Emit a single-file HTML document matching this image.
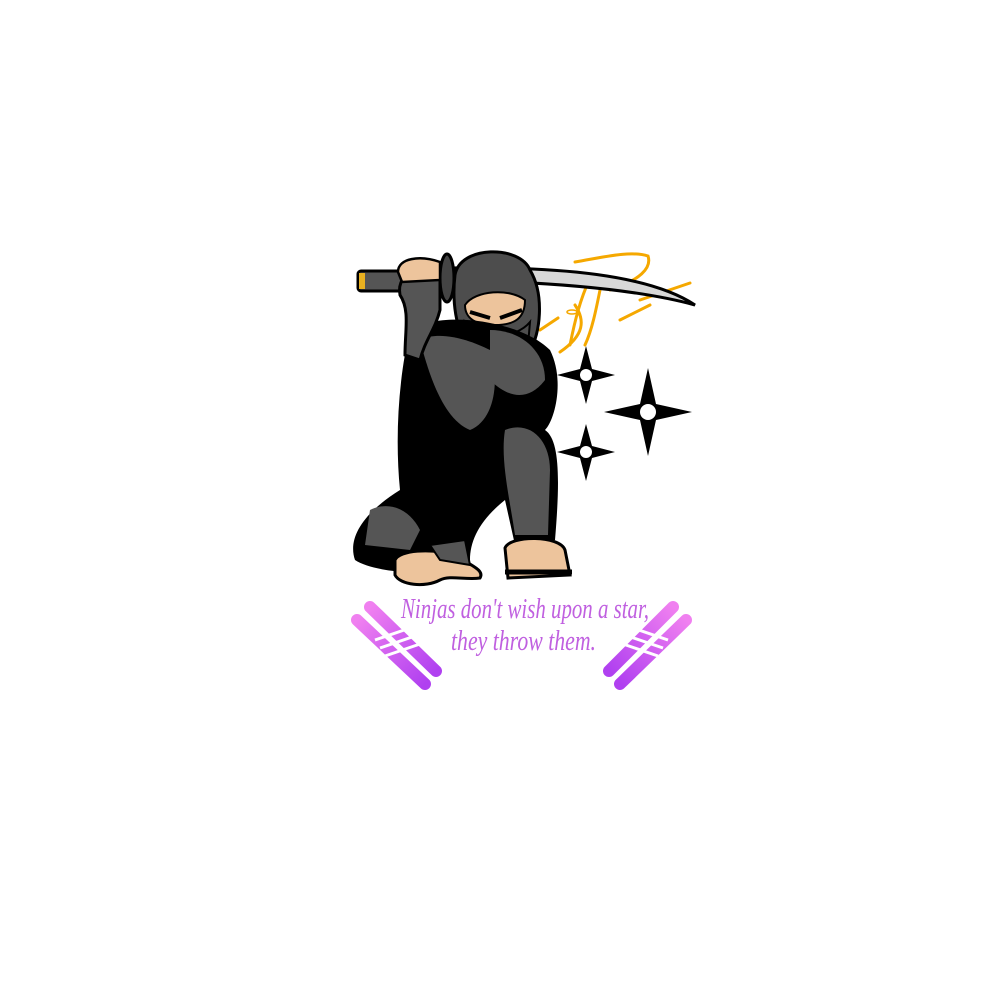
<!DOCTYPE html>
<html><head><meta charset="utf-8"><style>
html,body{margin:0;padding:0;background:#fff;width:1000px;height:1000px;overflow:hidden}
svg{position:absolute;left:0;top:0}
</style></head><body>
<svg width="1000" height="1000" viewBox="0 0 1000 1000" xmlns="http://www.w3.org/2000/svg">
<defs>
<linearGradient id="g1" x1="0" y1="0" x2="1" y2="1"><stop offset="0" stop-color="#f080f0"/><stop offset="1" stop-color="#b040f0"/></linearGradient>
<linearGradient id="g2" x1="1" y1="0" x2="0" y2="1"><stop offset="0" stop-color="#f080f0"/><stop offset="1" stop-color="#b040f0"/></linearGradient>
</defs>
<g stroke="#f5a800" stroke-width="3" fill="none" stroke-linecap="round">
<path d="M575 262 C600 258 630 250 648 256 C652 268 640 280 610 290"/>
<path d="M590 278 C580 300 575 320 570 345"/>
<path d="M600 290 C596 310 592 330 585 345"/>
<path d="M575 305 C585 320 585 335 560 352"/>
<path d="M640 300 L690 283"/>
<path d="M620 320 L650 305"/>
<path d="M540 330 L558 318"/>
<ellipse cx="572" cy="312" rx="5" ry="2" stroke-width="1.5"/>
</g>
<path d="M448 268 C560 266 650 275 695 305 C640 290 560 282 448 280 Z" fill="#d8d8d8" stroke="#000" stroke-width="3"/>
<rect x="358" y="271" width="90" height="20" rx="3" fill="#555" stroke="#000" stroke-width="3"/>
<rect x="359" y="273" width="6" height="16" fill="#e8b020"/>
<ellipse cx="447" cy="278" rx="7" ry="24" fill="#444" stroke="#000" stroke-width="3"/>
<path d="M455 275 C460 245 520 245 530 270 C545 295 540 335 530 350 L470 350 C455 330 452 300 455 275 Z" fill="#4d4d4d" stroke="#000" stroke-width="3"/>
<path d="M465 305 C475 290 510 288 525 300 C525 318 515 325 495 325 C475 325 465 318 465 305 Z" fill="#edc49c" stroke="#000" stroke-width="2"/>
<path d="M470 312 L490 318 M500 318 L522 310" stroke="#000" stroke-width="4"/>
<path d="M465 322 C480 340 515 340 530 322 L528 345 L468 345 Z" fill="#4d4d4d" stroke="#000" stroke-width="2"/>
<path d="M410 330 C440 310 520 320 550 350 C565 380 555 420 545 430 C560 440 560 480 555 540 L515 545 L505 500 C480 520 470 540 470 560 L430 570 C410 575 370 570 355 560 C348 540 360 515 400 490 C395 440 398 380 410 330 Z" fill="#000"/>
<path d="M420 340 C440 330 470 340 490 350 C500 380 495 420 470 430 C445 420 430 380 420 340 Z" fill="#555"/>
<path d="M505 430 C530 420 550 440 550 470 L548 535 L515 535 C510 500 500 460 505 430 Z" fill="#555"/>
<path d="M370 510 C390 500 410 510 420 530 L410 550 L365 545 Z" fill="#555"/>
<path d="M490 330 C520 330 545 350 545 380 C530 400 510 400 490 380 Z" fill="#555"/>
<path d="M400 295 C395 270 430 258 440 270 L440 310 C435 330 425 340 420 360 L405 355 C405 330 410 310 400 295 Z" fill="#555" stroke="#000" stroke-width="3"/>
<path d="M398 272 C398 258 420 255 440 262 L440 280 L402 282 Z" fill="#edc49c" stroke="#000" stroke-width="2.5"/>
<path d="M395 560 C400 550 430 548 455 555 C470 565 485 570 480 578 C465 580 450 575 440 580 C425 588 400 585 395 575 Z" fill="#edc49c" stroke="#000" stroke-width="3"/>
<path d="M430 545 L465 540 L470 565 L440 560 Z" fill="#555" stroke="#000" stroke-width="2"/>
<path d="M505 548 C510 535 560 535 565 550 L570 575 L508 578 Z" fill="#edc49c" stroke="#000" stroke-width="3"/>
<path d="M505 572 L572 572" stroke="#000" stroke-width="5"/>
<g fill="#000">
<path d="M586 346 L592 369 L615 375 L592 381 L586 404 L580 381 L557 375 L580 369 Z"/>
<path d="M648 368 L656 404 L692 412 L656 420 L648 456 L640 420 L604 412 L640 404 Z"/>
<path d="M586 424 L592 446 L615 452 L592 458 L586 481 L580 458 L557 452 L580 446 Z"/>
</g>
<g fill="#fff"><circle cx="586" cy="375" r="6"/><circle cx="648" cy="412" r="8"/><circle cx="586" cy="452" r="6"/></g>
<g stroke-linecap="round" stroke-width="12">
<line x1="370" y1="607" x2="436" y2="671" stroke="url(#g1)"/>
<line x1="357" y1="620" x2="425" y2="684" stroke="url(#g1)"/>
<line x1="673" y1="607" x2="609" y2="671" stroke="url(#g2)"/>
<line x1="686" y1="620" x2="620" y2="684" stroke="url(#g2)"/>
</g>
<g stroke="#fff" stroke-width="3">
<line x1="375" y1="640" x2="410" y2="628"/><line x1="380" y1="648" x2="415" y2="636"/><line x1="385" y1="656" x2="420" y2="644"/>
<line x1="668" y1="640" x2="633" y2="628"/><line x1="663" y1="648" x2="628" y2="636"/><line x1="658" y1="656" x2="623" y2="644"/>
</g>
<text x="401" y="618" textLength="248" lengthAdjust="spacingAndGlyphs" font-family="'Liberation Serif',serif" font-style="italic" font-size="28" fill="#c060e0">Ninjas don't wish upon a star,</text>
<text x="451" y="650" textLength="145" lengthAdjust="spacingAndGlyphs" font-family="'Liberation Serif',serif" font-style="italic" font-size="28" fill="#c060e0">they throw them.</text>
</svg>
</body></html>
